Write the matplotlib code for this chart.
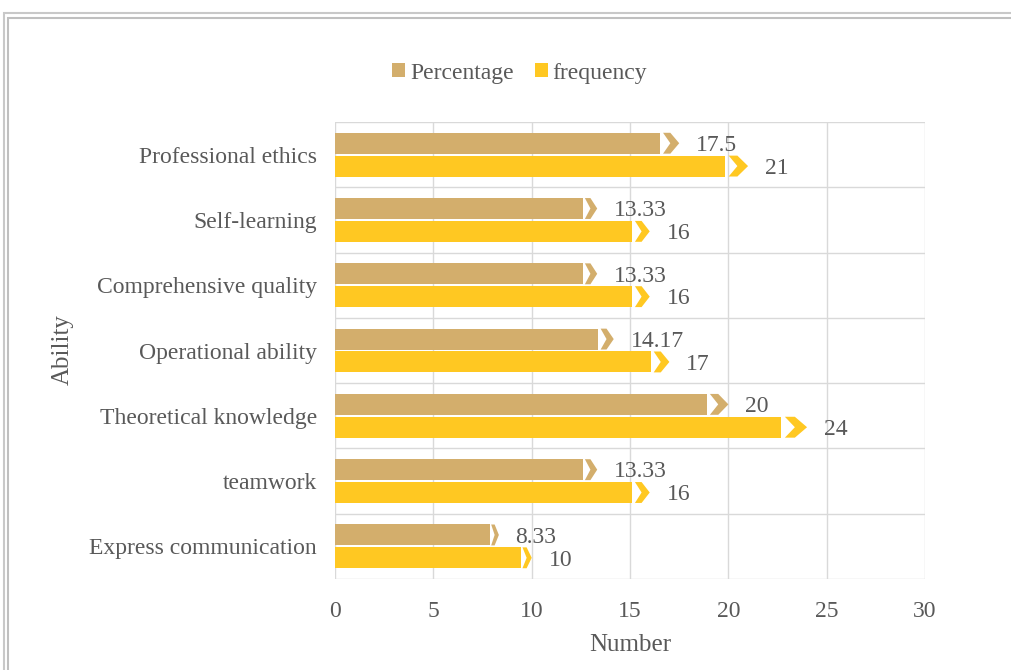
import matplotlib.pyplot as plt
from matplotlib.patches import Polygon, Rectangle

categories = ["Express communication", "teamwork", "Theoretical knowledge",
              "Operational ability", "Comprehensive quality", "Self-learning",
              "Professional ethics"]
percentage = [8.33, 13.33, 20, 14.17, 13.33, 13.33, 17.5]
frequency = [10, 16, 24, 17, 16, 16, 21]
pct_labels = ["8.33", "13.33", "20", "14.17", "13.33", "13.33", "17.5"]
freq_labels = ["10", "16", "24", "17", "16", "16", "21"]

c_pct = "#D3AE6C"
c_freq = "#FFC822"
txt = "#595959"
plt.rcParams['font.family'] = ['Liberation Serif', 'DejaVu Serif']

fig = plt.figure(figsize=(10.11, 6.7), dpi=100)
ax = fig.add_axes([0.3314, 0.1358, 0.5836, 0.6821])

h = 0.32
off = 0.175


def arrow_bar(y, val, color, label):
    # bar body, small gap, then a notched chevron whose tip sits on the value
    tail = val * 0.055
    gap = val * 0.008
    body = val - tail
    ax.barh(y, body, height=h, color=color, label=label, zorder=3)
    xs = body + gap
    w = val - xs
    top, bot = y + h / 2, y - h / 2
    pts = [(xs, top), (xs + 0.45 * w, top), (val, y), (xs + 0.45 * w, bot),
           (xs, bot), (xs + 0.45 * w, y)]
    ax.add_patch(Polygon(pts, closed=True, color=color, lw=0, zorder=3))


for i in range(len(categories)):
    arrow_bar(i + off, percentage[i], c_pct, "Percentage" if i == 0 else None)
    arrow_bar(i - off, frequency[i], c_freq, "frequency" if i == 0 else None)
    ax.text(percentage[i] + 0.85, i + off - 0.035, pct_labels[i], va="center",
            ha="left", fontsize=17, color=txt, zorder=4)
    ax.text(frequency[i] + 0.85, i - off - 0.035, freq_labels[i], va="center",
            ha="left", fontsize=17, color=txt, zorder=4)

ax.set_xlim(0, 30)
ax.set_ylim(-0.5, len(categories) - 0.5)
ax.set_xticks(range(0, 31, 5))
ax.set_yticks(range(len(categories)))
ax.set_yticklabels(categories)
ax.set_yticks([i + 0.5 for i in range(-1, len(categories))], minor=True)
ax.tick_params(axis="both", which="both", length=0, labelsize=17, labelcolor=txt)
ax.tick_params(axis="y", pad=13)
ax.tick_params(axis="x", pad=16)
ax.grid(axis="x", which="major", color="#D9D9D9", lw=1, zorder=0)
ax.grid(axis="y", which="minor", color="#D9D9D9", lw=1, zorder=0)
ax.grid(axis="y", which="major", visible=False)
for s in ax.spines.values():
    s.set_visible(False)

fig.text(0.062, 0.478, "Ability", rotation=90, ha="center", va="center",
         fontsize=18, color=txt)
fig.text(0.623, 0.037, "Number", ha="center", va="center", fontsize=18, color=txt)

handles, labels = ax.get_legend_handles_labels()
fig.legend(handles, labels, loc="center", bbox_to_anchor=(0.514, 0.891), ncol=2,
           frameon=False, fontsize=17, labelcolor=txt, handlelength=0.55,
           handleheight=0.55, handletextpad=0.2, columnspacing=0.9)

# double frame around the chart area (cut off on the right and bottom)
fig.add_artist(Rectangle((4 / 1011, -0.1), 2, 1 - 13 / 670 + 0.1, fill=False,
                         ec="#C8C8C8", lw=1.5, transform=fig.transFigure))
fig.add_artist(Rectangle((7.5 / 1011, -0.1), 2, 1 - 18 / 670 + 0.1, fill=False,
                         ec="#BFBFBF", lw=1.5, transform=fig.transFigure))

fig.savefig("out.png", dpi=100)
